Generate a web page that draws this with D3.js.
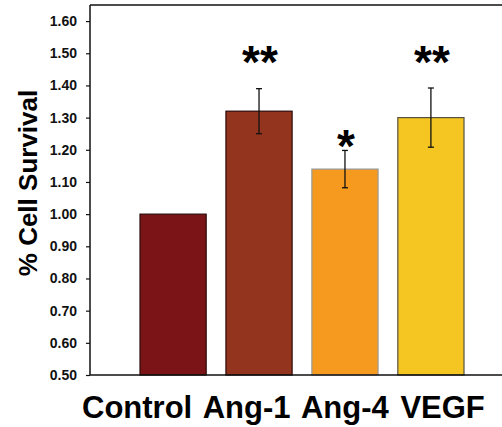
<!DOCTYPE html>
<html lang="en">
<head>
<meta charset="utf-8">
<title>Cell Survival</title>
<script src="https://d3js.org/d3.v7.min.js"></script>
<style>
  body { margin: 0; background: white; }
  svg { display: block; }
  .tick text { font-family: "Liberation Sans", Arial, sans-serif; font-weight: bold; font-size: 14px; fill: #111; }
  .lbl { font-family: "Liberation Sans", Arial, sans-serif; font-weight: bold; fill: #000; }
</style>
</head>
<body>
<svg width="502" height="427"></svg>
<script>
// data
const categories = ["Control", "Ang-1", "Ang-4", "VEGF"];
const values = [1.00, 1.32, 1.14, 1.30];
const errors = [0, 0.07, 0.058, 0.092];
const stars = ["", "**", "*", "**"];
const starLevel = [0, 1.423, 1.163, 1.423]; // baseline of the asterisks, in axis units
const yTicks = [0.5, 0.6, 0.7, 0.8, 0.9, 1.0, 1.1, 1.2, 1.3, 1.4, 1.5, 1.6];

const fills = ["#7b1416", "#93341e", "#f5991f", "#f5c622"];
const strokes = ["#2a0a0a", "#2a0a0a", "#999999", "#555040"];

const svg = d3.select("svg");
const plotLeft = 90, plotTop = 5, plotBottom = 375, plotRight = 502;

const y = d3.scaleLinear().domain([0.5, 1.65]).range([plotBottom, plotTop]);
const x = d3.scaleBand().domain(categories).range([140, 464]).paddingInner(0.23).paddingOuter(0);

// top frame line
svg.append("line")
  .attr("x1", plotLeft).attr("x2", plotRight)
  .attr("y1", plotTop).attr("y2", plotTop)
  .attr("stroke", "#111").attr("stroke-width", 1.5);

// bars
svg.selectAll("rect.bar")
  .data(categories)
  .enter()
  .append("rect")
  .attr("class", "bar")
  .attr("x", d => x(d))
  .attr("width", x.bandwidth())
  .attr("y", (d, i) => y(values[i]))
  .attr("height", (d, i) => plotBottom - y(values[i]))
  .attr("fill", (d, i) => fills[i])
  .attr("stroke", (d, i) => strokes[i])
  .attr("stroke-width", 1.2);

// error bars
const eb = svg.selectAll("g.err")
  .data(categories.filter((d, i) => errors[i] > 0))
  .enter()
  .append("g")
  .attr("class", "err")
  .attr("stroke", "#111")
  .attr("stroke-width", 1.3);

eb.append("line")
  .attr("x1", d => x(d) + x.bandwidth() / 2)
  .attr("x2", d => x(d) + x.bandwidth() / 2)
  .attr("y1", d => { const i = categories.indexOf(d); return y(values[i] + errors[i]); })
  .attr("y2", d => { const i = categories.indexOf(d); return y(values[i] - errors[i]); });

[1, -1].forEach(s => {
  eb.append("line")
    .attr("x1", d => x(d) + x.bandwidth() / 2 - 3)
    .attr("x2", d => x(d) + x.bandwidth() / 2 + 3)
    .attr("y1", d => { const i = categories.indexOf(d); return y(values[i] + s * errors[i]); })
    .attr("y2", d => { const i = categories.indexOf(d); return y(values[i] + s * errors[i]); });
});

// significance stars
svg.selectAll("text.star")
  .data(categories)
  .enter()
  .append("text")
  .attr("class", "lbl star")
  .attr("text-anchor", "middle")
  .attr("font-size", "46px")
  .attr("x", d => x(d) + x.bandwidth() / 2 + 1)
  .attr("y", (d, i) => y(starLevel[i]))
  .text((d, i) => stars[i]);

// y axis
const yAxis = d3.axisLeft(y)
  .tickValues(yTicks)
  .tickFormat(d3.format(".2f"))
  .tickSize(4)
  .tickPadding(9);

const gy = svg.append("g")
  .attr("transform", `translate(${plotLeft},0)`)
  .call(yAxis);
gy.select(".domain").attr("stroke", "#111").attr("stroke-width", 1.5).attr("d", `M0,${plotTop}V${plotBottom}`);
gy.selectAll(".tick line").attr("stroke", "#111").attr("stroke-width", 1.2);

// x axis line
svg.append("line")
  .attr("x1", plotLeft).attr("x2", plotRight)
  .attr("y1", plotBottom).attr("y2", plotBottom)
  .attr("stroke", "#111").attr("stroke-width", 1.5);

// category labels, one row
svg.append("text")
  .attr("class", "lbl")
  .attr("x", 82)
  .attr("y", 418)
  .attr("font-size", "31px")
  .attr("word-spacing", "3px")
  .text(categories.join(" "));

// y title
svg.append("text")
  .attr("class", "lbl")
  .attr("text-anchor", "middle")
  .attr("font-size", "26px")
  .attr("transform", "translate(37,183) rotate(-90)")
  .text("% Cell Survival");
</script>
</body>
</html>
